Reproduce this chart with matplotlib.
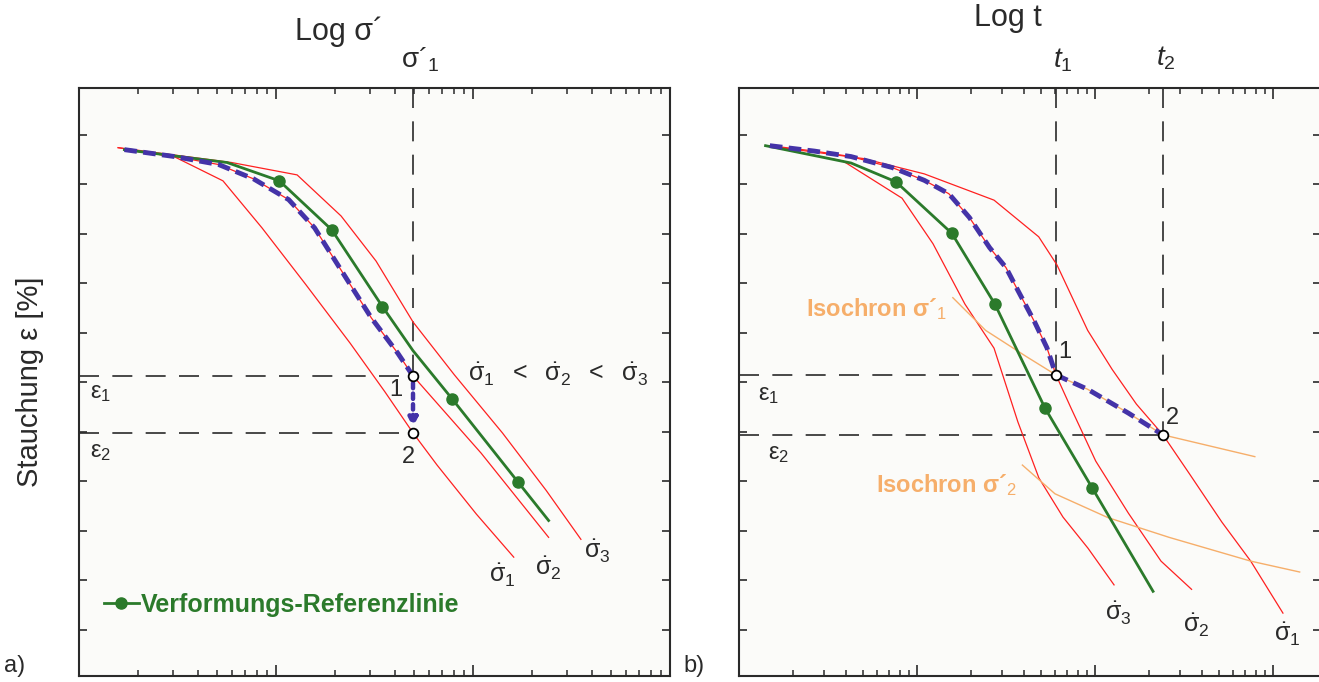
import matplotlib.pyplot as plt
from matplotlib.ticker import LogLocator, NullFormatter, FixedLocator

plt.rcParams["font.family"] = ["Liberation Sans", "DejaVu Sans"]
plt.rcParams["mathtext.fontset"] = "custom"
plt.rcParams["mathtext.rm"] = "Liberation Sans"
plt.rcParams["mathtext.it"] = "Liberation Sans:italic"
plt.rcParams["mathtext.bf"] = "Liberation Sans:bold"


# -----------------------------
# DATA  a) strain vs. log stress
# -----------------------------
a_rate1_x = [1.58, 3.07, 5.38, 8.49, 14.2, 23.8, 35.7, 49.6, 65.7, 104, 161]
a_rate1_y = [0.26, 0.45, 0.93, 1.88, 3.03, 4.21, 5.19, 6.02, 6.67, 7.66, 8.53]

a_rate2_x = [1.70, 3.06, 5.11, 7.69, 11.6, 15.7, 22.5, 30.5, 41.5, 49.6, 110, 242]
a_rate2_y = [0.30, 0.44, 0.60, 0.89, 1.31, 1.88, 2.87, 3.70, 4.41, 4.87, 6.43, 8.13]

a_rate3_x = [1.58, 5.95, 12.8, 21.4, 32.2, 49.6, 80.5, 141, 235, 353]
a_rate3_y = [0.26, 0.56, 0.81, 1.64, 2.55, 3.78, 4.85, 6.02, 7.18, 8.17]

a_ref_x = [1.70, 5.64, 10.4, 19.2, 34.7, 49.6, 78.6, 169, 242]
a_ref_y = [0.30, 0.56, 0.93, 1.92, 3.47, 4.36, 5.34, 7.01, 7.79]
a_ref_marked = [2, 3, 4, 6, 7]

a_sigma1 = 49.6           # sigma'_1
a_eps1, a_eps2 = 4.87, 6.02

# -----------------------------
# DATA  b) strain vs. log time
# -----------------------------
b_rate3_x = [1.41, 3.84, 8.24, 12.3, 18.6, 27.1, 36.9, 48.4, 66.1, 91.4, 128]
b_rate3_y = [0.22, 0.53, 1.28, 2.20, 3.42, 4.31, 5.80, 6.93, 7.72, 8.35, 9.09]

b_rate2_x = [1.49, 2.66, 4.26, 7.24, 11.0, 15.1, 19.7, 25.6, 31.6, 37.1, 45.8, 53.7, 60.4,
             73.6, 101, 154, 235, 349]
b_rate2_y = [0.22, 0.33, 0.44, 0.66, 0.92, 1.19, 1.67, 2.28, 2.68, 3.16, 3.78, 4.30, 4.85,
             5.53, 6.59, 7.64, 8.61, 9.18]
b_rate2_to_t1 = 13        # points of rate 2 up to t1

b_rate1_x = [1.41, 5.00, 11.0, 27.1, 48.3, 61.2, 91.0, 125, 171, 241, 340, 516, 750, 1138]
b_rate1_y = [0.22, 0.48, 0.79, 1.32, 2.06, 2.63, 3.95, 4.74, 5.44, 6.06, 6.85, 7.82, 8.61, 9.66]

b_ref_x = [1.41, 4.26, 7.62, 15.7, 27.4, 52.4, 96.8, 212]
b_ref_y = [0.22, 0.57, 0.95, 1.99, 3.42, 5.52, 7.14, 9.22]
b_ref_marked = [2, 3, 4, 5, 6]

iso1_x = [15.9, 24.3, 41.2, 60.4, 91.0, 154, 241, 791]
iso1_y = [3.29, 3.95, 4.48, 4.85, 5.14, 5.62, 6.06, 6.50]
iso1_t1_to_t2 = slice(3, 7)

iso2_x = [39.1, 59.6, 118, 261, 750, 1413]
iso2_y = [6.67, 7.25, 7.73, 8.13, 8.61, 8.83]

b_t1, b_t2 = 60.4, 241
b_eps1, b_eps2 = 4.85, 6.06


# ------
# STYLE
# ------
RED = "#ff2020"
GREEN = "#2b7a2b"
BLUE = "#4433a8"
ORANGE = "#f6ae6a"
INK = "#2a2a2a"
YLIM = (10.93, -0.955)
GUIDE = dict(color=INK, lw=1.2, dashes=(12, 8), zorder=2)

fig = plt.figure(figsize=(13.19, 6.82), dpi=100)
ax_a = fig.add_axes([79 / 1319, 6 / 682, 591 / 1319, 588.5 / 682])
ax_b = fig.add_axes([739 / 1319, 6 / 682, 582 / 1319, 588.5 / 682])


def style_axes(ax, xmax):
    ax.set_xscale("log")
    ax.set_xlim(1, xmax)
    ax.set_ylim(*YLIM)
    ax.set_facecolor("#fbfbf9")
    ax.xaxis.set_major_locator(LogLocator(base=10))
    ax.xaxis.set_minor_locator(LogLocator(base=10, subs=range(2, 10)))
    ax.xaxis.set_minor_formatter(NullFormatter())
    ax.yaxis.set_major_locator(FixedLocator(range(0, 11)))
    ax.tick_params(which="both", direction="in", top=True, right=True,
                   labelbottom=False, labelleft=False, color=INK)
    ax.tick_params(axis="x", which="major", length=8, width=1.2)
    ax.tick_params(axis="x", which="minor", length=4.5, width=1.1)
    ax.tick_params(axis="y", which="major", length=6, width=1.2)
    for s in ax.spines.values():
        s.set_color(INK)
        s.set_linewidth(1.5)


style_axes(ax_a, 1000)
style_axes(ax_b, 1862)

# -------------
# PANEL a)
# -------------
ax = ax_a
for xs, ys in [(a_rate1_x, a_rate1_y), (a_rate2_x, a_rate2_y), (a_rate3_x, a_rate3_y)]:
    ax.plot(xs, ys, color=RED, lw=0.9, zorder=3)

ax.plot(a_rate2_x[:10], a_rate2_y[:10], color=BLUE, lw=3.5, ls=(0, (2.6, 1.3)),
        solid_capstyle="butt", zorder=5)
ax.annotate("", xy=(a_sigma1, a_eps2), xytext=(a_sigma1, a_eps1),
            arrowprops=dict(arrowstyle="-|>,head_width=0.25,head_length=0.5",
                            color=BLUE, lw=3.2, ls=(0, (1.2, 1.2)), shrinkA=5, shrinkB=4),
            zorder=5)

ax.plot(a_ref_x, a_ref_y, color=GREEN, lw=2, zorder=4)
ax.plot([a_ref_x[i] for i in a_ref_marked], [a_ref_y[i] for i in a_ref_marked],
        ls="none", marker="o", ms=8, color=GREEN, zorder=4,
        label="Verformungs-Referenzlinie")

ax.plot([a_sigma1, a_sigma1], [YLIM[1], a_eps1], **GUIDE)
ax.plot([1, a_sigma1], [a_eps1, a_eps1], **GUIDE)
ax.plot([1, a_sigma1], [a_eps2, a_eps2], **GUIDE)
ax.plot([a_sigma1, a_sigma1], [a_eps1, a_eps2], ls="none", marker="o", ms=7,
        mfc="white", mec="black", mew=1.3, zorder=6)

ax.text(40.6, 5.16, "1", fontsize=17, color=INK, ha="center", va="center")
ax.text(46.8, 6.51, "2", fontsize=17, color=INK, ha="center", va="center")
ax.text(1.14, 5.22, r"ε$_1$", fontsize=17, color=INK, ha="left", va="center")
ax.text(1.14, 6.41, r"ε$_2$", fontsize=17, color=INK, ha="left", va="center")
ax.text(270, 4.85, r"$\dot{\mathrm{\sigma}}_1\ \ <\ \ \dot{\mathrm{\sigma}}_2\ \ <\ \ \dot{\mathrm{\sigma}}_3$",
        fontsize=18, color=INK, ha="center", va="center")
ax.text(140, 8.91, r"$\dot{\mathrm{\sigma}}_1$", fontsize=18, color=INK, ha="center", va="center")
ax.text(240, 8.75, r"$\dot{\mathrm{\sigma}}_2$", fontsize=18, color=INK, ha="center", va="center")
ax.text(426, 8.41, r"$\dot{\mathrm{\sigma}}_3$", fontsize=18, color=INK, ha="center", va="center")

leg = ax.legend(loc="center left", bbox_to_anchor=(0.025, 0.121), frameon=False,
                handlelength=1.4, handletextpad=0.1, borderaxespad=0,
                prop=dict(size=18, weight="bold"), labelcolor=GREEN)
leg.legend_handles[0].set_linestyle("-")
leg.legend_handles[0].set_linewidth(2)

# -------------
# PANEL b)
# -------------
ax = ax_b
for xs, ys in [(b_rate1_x, b_rate1_y), (b_rate2_x, b_rate2_y), (b_rate3_x, b_rate3_y)]:
    ax.plot(xs, ys, color=RED, lw=0.9, zorder=3)
ax.plot(iso1_x, iso1_y, color=ORANGE, lw=1, zorder=3)
ax.plot(iso2_x, iso2_y, color=ORANGE, lw=1, zorder=3)

ax.plot(b_rate2_x[:b_rate2_to_t1], b_rate2_y[:b_rate2_to_t1], color=BLUE, lw=3.5,
        ls=(0, (2.6, 1.3)), zorder=5)
ax.plot(iso1_x[iso1_t1_to_t2], iso1_y[iso1_t1_to_t2], color=BLUE, lw=3.5,
        ls=(0, (2.6, 1.3)), zorder=5)

ax.plot(b_ref_x, b_ref_y, color=GREEN, lw=2, zorder=4)
ax.plot([b_ref_x[i] for i in b_ref_marked], [b_ref_y[i] for i in b_ref_marked],
        ls="none", marker="o", ms=8, color=GREEN, zorder=4)

ax.plot([b_t1, b_t1], [YLIM[1], b_eps1], **GUIDE)
ax.plot([b_t2, b_t2], [YLIM[1], b_eps2], **GUIDE)
ax.plot([1, b_t1], [b_eps1, b_eps1], **GUIDE)
ax.plot([1, b_t2], [b_eps2, b_eps2], **GUIDE)
ax.plot([b_t1, b_t2], [b_eps1, b_eps2], ls="none", marker="o", ms=7,
        mfc="white", mec="black", mew=1.3, zorder=6)

ax.text(67.8, 4.39, "1", fontsize=17, color=INK, ha="center", va="center")
ax.text(271, 5.72, "2", fontsize=17, color=INK, ha="center", va="center")
ax.text(1.28, 5.25, r"ε$_1$", fontsize=17, color=INK, ha="left", va="center")
ax.text(1.46, 6.45, r"ε$_2$", fontsize=17, color=INK, ha="left", va="center")
ax.text(2.38, 3.52, r"Isochron σ´$_1$", fontsize=17, weight="bold", color=ORANGE,
        ha="left", va="center")
ax.text(5.86, 7.07, r"Isochron σ´$_2$", fontsize=17, weight="bold", color=ORANGE,
        ha="left", va="center")
ax.text(135, 9.66, r"$\dot{\mathrm{\sigma}}_3$", fontsize=18, color=INK, ha="center", va="center")
ax.text(369, 9.92, r"$\dot{\mathrm{\sigma}}_2$", fontsize=18, color=INK, ha="center", va="center")
ax.text(1199, 10.1, r"$\dot{\mathrm{\sigma}}_1$", fontsize=18, color=INK, ha="center", va="center")

# -------------------
# LABELS AROUND AXES
# -------------------
fig.text(339 / 1319, 1 - 32 / 682, "Log σ´", fontsize=22, color=INK, ha="center", va="center")
fig.text(420 / 1319, 1 - 60 / 682, r"σ´$_1$", fontsize=20, color=INK, ha="center", va="center")
fig.text(1008 / 1319, 1 - 18 / 682, "Log t", fontsize=22, color=INK, ha="center", va="center")
fig.text(1063 / 1319, 1 - 60 / 682, r"$t_1$", fontsize=20, color=INK, ha="center", va="center")
fig.text(1166 / 1319, 1 - 58 / 682, r"$t_2$", fontsize=20, color=INK, ha="center", va="center")
fig.text(30 / 1319, 1 - 382 / 682, "Stauchung ε [%]", fontsize=21, color=INK,
         rotation=90, ha="center", va="center")
fig.text(4 / 1319, 1 - 666 / 682, "a)", fontsize=17, color=INK, ha="left", va="center")
fig.text(683 / 1319, 1 - 666 / 682, "b)", fontsize=17, color=INK, ha="left", va="center")

fig.savefig("out.png", dpi=100)
